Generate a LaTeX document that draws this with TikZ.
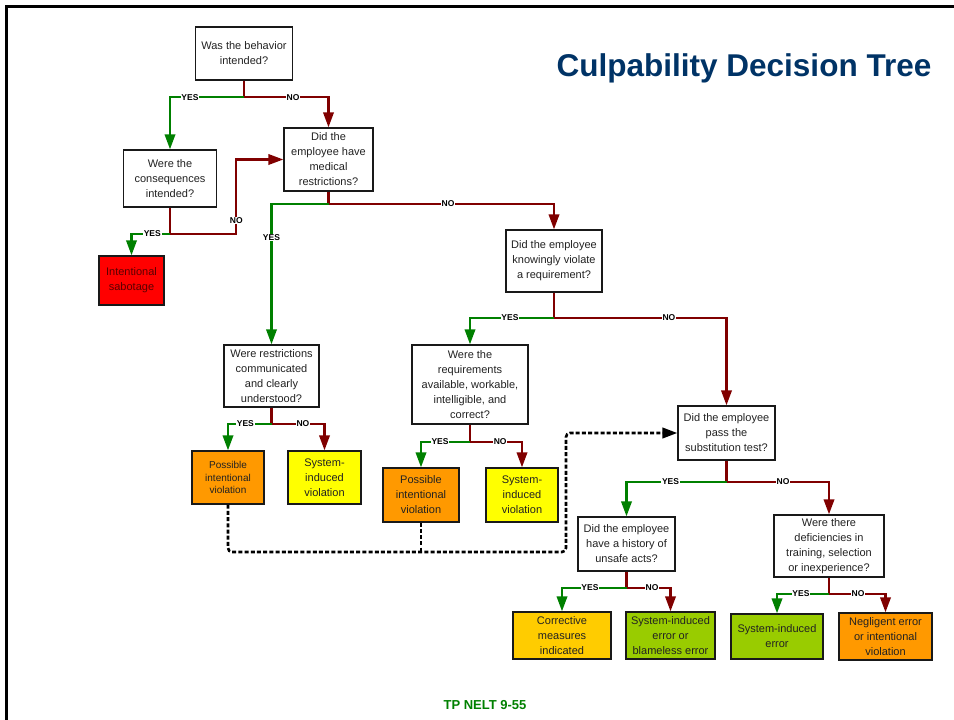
\documentclass[tikz,border=0pt]{standalone}
\usepackage{fontspec}
\setmainfont{Liberation Sans}
\usetikzlibrary{arrows.meta,calc}

\definecolor{yesgreen}{RGB}{0,128,0}
\definecolor{nored}{RGB}{128,0,0}
\definecolor{titleblue}{RGB}{0,51,102}
\definecolor{leaforange}{RGB}{255,153,0}
\definecolor{leafyellow}{RGB}{255,255,0}
\definecolor{leafgold}{RGB}{255,204,0}
\definecolor{leaflime}{RGB}{153,204,0}
\definecolor{leafred}{RGB}{255,0,0}
\definecolor{boxtext}{RGB}{34,34,34}
\definecolor{sabtext}{RGB}{90,0,0}

\tikzset{
  boxsize/.style 2 args={minimum width=#1pt, minimum height=#2pt},
  box/.style={draw=black!90, line width=1.4pt, fill=white, align=center,
    inner sep=0pt, text=boxtext, font=\fontsize{11}{15}\selectfont},
  leaf/.style={box, fill=#1},
  tip/.style={-{Triangle[length=15pt,width=10.5pt]}},
  stem/.style={draw=nored, line width=2.2pt},
  yesarrow/.style={draw=yesgreen, line width=2.2pt, tip},
  noarrow/.style={draw=nored, line width=2.2pt, tip},
  lbl/.style={fill=white, inner sep=0.8pt, text=black,
    font=\fontsize{8.5}{10}\selectfont\bfseries},
  dashlink/.style={draw=black, line width=2.6pt, dash pattern=on 4pt off 2.2pt,
    rounded corners=4pt},
}

\begin{document}
\begin{tikzpicture}[x=1pt,y=-1pt]
\useasboundingbox (0,0) rectangle (954,720);

% slide frame
\draw[line width=3pt] (954,6.7) -- (6.7,6.7) -- (6.7,720);

% title and footer
\node[font=\fontsize{31.5}{36}\selectfont\bfseries, text=titleblue] (title) at (744,68) {Culpability Decision Tree};
\node[font=\fontsize{13}{15}\selectfont\bfseries, text=yesgreen] (footer) at (485,705) {TP NELT 9-55};

% questions
\node[box, boxsize={97}{53}] (q1) at (244,53.5) {Was the behavior\\intended?};
\node[box, boxsize={93}{57}] (q2) at (170,178.5) {Were the\\consequences\\intended?};
\node[box, boxsize={89}{63}] (q3) at (328.5,159.5) {Did the\\employee have\\medical\\restrictions?};
\node[box, boxsize={96}{62}] (q5) at (554,261) {Did the employee\\knowingly violate\\a requirement?};
\node[box, boxsize={95}{62}] (q6) at (271.5,376) {Were restrictions\\communicated\\and clearly\\understood?};
\node[box, boxsize={116}{79}] (q9) at (470,384.5) {Were the\\requirements\\available, workable,\\intelligible, and\\correct?};
\node[box, boxsize={97}{54}] (q12) at (726.5,433) {Did the employee\\pass the\\substitution test?};
\node[box, boxsize={97}{54}] (q13) at (626.5,544) {Did the employee\\have a history of\\unsafe acts?};
\node[box, boxsize={110}{62}] (q14) at (829,546) {Were there\\deficiencies in\\training, selection\\or inexperience?};

% outcomes
\node[leaf=leafred, boxsize={65}{49}, text=sabtext] (sab) at (131.5,280.5) {Intentional\\sabotage};
\node[leaf=leaforange, boxsize={72}{53}, font=\fontsize{10}{12.8}\selectfont] (l7) at (228,477.5) {Possible\\intentional\\violation};
\node[leaf=leafyellow, boxsize={73}{53}] (l8) at (324.5,477.5) {System-\\induced\\violation};
\node[leaf=leaforange, boxsize={76}{54}] (l10) at (421,495) {Possible\\intentional\\violation};
\node[leaf=leafyellow, boxsize={72}{54}] (l11) at (522,495) {System-\\induced\\violation};
\node[leaf=leafgold, boxsize={98}{47}] (l15) at (562,635.5) {Corrective\\measures\\indicated};
\node[leaf=leaflime, boxsize={89}{47}] (l16) at (670.5,635.5) {System-induced\\error or\\blameless error};
\node[leaf=leaflime, boxsize={92}{45}] (l17) at (777,636.5) {System-induced\\error};
\node[leaf=leaforange, boxsize={93}{47}] (l18) at (885.5,636.5) {Negligent error\\or intentional\\violation};

% branch points below each question
\coordinate (j1) at ($(q1.south)+(0,16.5)$);
\coordinate (j2) at ($(q2.south)+(0,26)$);
\coordinate (j3) at ($(q3.south)+(0,12)$);
\coordinate (j5) at ($(q5.south)+(0,25)$);
\coordinate (j6) at ($(q6.south)+(0,16)$);
\coordinate (j9) at ($(q9.south)+(0,17)$);
\coordinate (j12) at ($(q12.south)+(0,21)$);
\coordinate (j13) at ($(q13.south)+(0,16)$);
\coordinate (j14) at ($(q14.south)+(0,16)$);

% dashed feedback from possible violations to substitution test
\coordinate (dj) at (566,552);
\draw[dashlink, tip] (l7.south) |- (dj) |- (q12.west);
\draw[dashlink] (l10.south) -- (l10.south |- dj);

% Was the behavior intended?
\draw[stem] (q1.south) -- (j1);
\draw[yesarrow] (j1) -| node[lbl, pos=0.365] {YES} (q2.north);
\draw[noarrow] (j1) -| node[lbl, pos=0.29] {NO} (q3.north);

% Were the consequences intended?
\draw[stem] (q2.south) -- (j2);
\draw[yesarrow] (j2) -| node[lbl, pos=0.23] {YES} (sab.north);
\draw[noarrow] (j2) -| node[lbl, pos=0.588] {NO} ($(q3.west)+(-47,0)$) -- (q3.west);

% Medical restrictions?
\draw[stem] (q3.south) -- (j3);
\draw[yesarrow] (j3) -| node[lbl, pos=0.62] {YES} (q6.north);
\draw[noarrow] (j3) -| node[lbl, pos=0.265] {NO} (q5.north);

% Knowingly violate a requirement?
\draw[stem] (q5.south) -- (j5);
\draw[yesarrow] (j5) -| node[lbl, pos=0.262] {YES} (q9.north);
\draw[noarrow] (j5) -| node[lbl, pos=0.333] {NO} (q12.north);

% Restrictions communicated?
\draw[stem] (q6.south) -- (j6);
\draw[yesarrow] (j6) -| node[lbl, pos=0.30] {YES} (l7.north);
\draw[noarrow] (j6) -| node[lbl, pos=0.297] {NO} (l8.north);

% Requirements workable?
\draw[stem] (q9.south) -- (j9);
\draw[yesarrow] (j9) -| node[lbl, pos=0.306] {YES} (l10.north);
\draw[noarrow] (j9) -| node[lbl, pos=0.29] {NO} (l11.north);

% Substitution test
\draw[stem] (q12.south) -- (j12);
\draw[yesarrow] (j12) -| node[lbl, pos=0.28] {YES} (q13.north);
\draw[noarrow] (j12) -| node[lbl, pos=0.276] {NO} (q14.north);

% History of unsafe acts?
\draw[stem] (q13.south) -- (j13);
\draw[yesarrow] (j13) -| node[lbl, pos=0.283] {YES} (l15.north);
\draw[noarrow] (j13) -| node[lbl, pos=0.29] {NO} (l16.north);

% Deficiencies in training?
\draw[stem] (q14.south) -- (j14);
\draw[yesarrow] (j14) -| node[lbl, pos=0.27] {YES} (l17.north);
\draw[noarrow] (j14) -| node[lbl, pos=0.257] {NO} (l18.north);
\end{tikzpicture}
\end{document}
